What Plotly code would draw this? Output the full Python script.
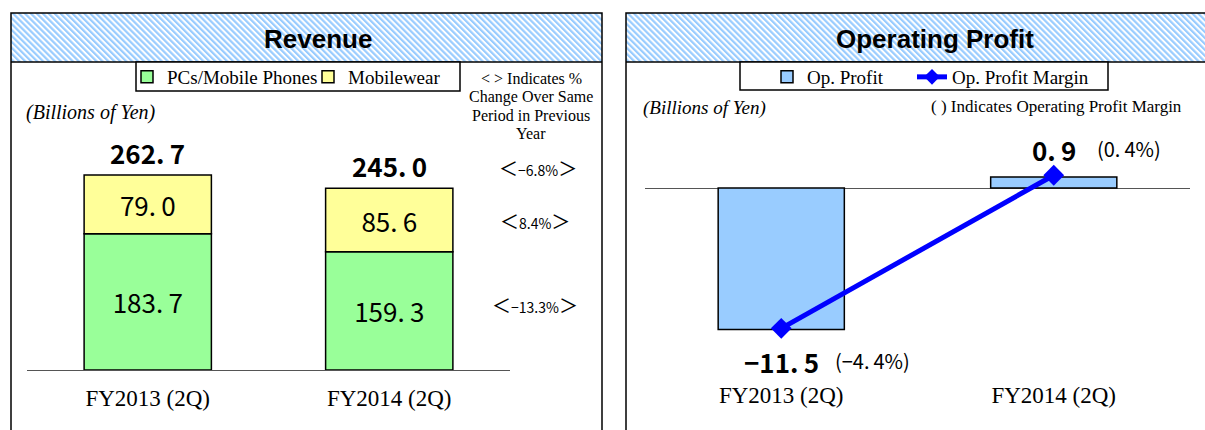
import base64
import plotly.graph_objects as go

# ---------------- data ----------------
categories = ["FY2013 (2Q)", "FY2014 (2Q)"]
pcs_mobile_phones = [183.7, 159.3]
mobilewear = [79.0, 85.6]
revenue_total = [262.7, 245.0]
yoy_total = -6.8
yoy_mobilewear = 8.4
yoy_pcs = -13.3
op_profit = [-11.5, 0.9]
op_margin = [-4.4, 0.4]
note_lines = ["&lt; &gt; Indicates %", "Change Over Same", "Period in Previous", "Year"]

# ---------------- helpers ----------------
W, H = 1205, 430


def px(x):
    return x / W


def py(y):
    return 1 - y / H


def fmt(v):
    s = f"{v:.1f}".replace("-", "\u2212")
    return s.replace(".", ".\u2009")


def fmt_pct(v):
    return f"{v:.1f}%".replace("-", "\u2212")


def hatch(w, h):
    svg = (
        f"<svg xmlns='http://www.w3.org/2000/svg' width='{w}' height='{h}' "
        f"viewBox='0 0 {w} {h}' preserveAspectRatio='none'>"
        "<defs><pattern id='p' width='4.2' height='4.2' patternUnits='userSpaceOnUse' "
        "patternTransform='rotate(-45)'>"
        "<rect width='4.2' height='4.2' fill='#ffffff'/>"
        "<rect width='2.2' height='4.2' fill='#99ccff'/></pattern></defs>"
        f"<rect width='{w}' height='{h}' fill='url(#p)'/></svg>"
    )
    return "data:image/svg+xml;base64," + base64.b64encode(svg.encode()).decode()


GOTHIC = "Noto Sans CJK JP"
SERIF = "Liberation Serif, Times New Roman, serif"
SANS = "Liberation Sans, Arial, sans-serif"

# scales (px per unit)
L_BASE, L_TOP, L_K = 370, 140, 0.742
R_BOT, R_TOP, R_ZERO, R_K, R_K2 = 371, 140, 188, 12.3, 31.9

fig = go.Figure()

# ---------------- Revenue (left) ----------------
fig.add_trace(go.Bar(
    x=categories, y=pcs_mobile_phones, name="PCs/Mobile Phones",
    marker=dict(color="#99ff99", line=dict(color="#000000", width=1.5)),
    width=0.527, text=[fmt(v) for v in pcs_mobile_phones],
    textposition="inside", insidetextanchor="middle", textangle=0,
    textfont=dict(family=GOTHIC, size=26, color="#000000"),
    xaxis="x", yaxis="y", legend="legend", hoverinfo="skip",
))
fig.add_trace(go.Bar(
    x=categories, y=mobilewear, name="Mobilewear",
    marker=dict(color="#ffff99", line=dict(color="#000000", width=1.5)),
    width=0.527, text=[fmt(v) for v in mobilewear],
    textposition="inside", insidetextanchor="middle", textangle=0,
    textfont=dict(family=GOTHIC, size=26, color="#000000"),
    xaxis="x", yaxis="y", legend="legend", hoverinfo="skip",
))

# ---------------- Operating profit (right) ----------------
fig.add_trace(go.Bar(
    x=categories, y=op_profit, name="Op. Profit",
    marker=dict(color="#99ccff", line=dict(color="#000000", width=1.5)),
    width=0.463, xaxis="x2", yaxis="y2", legend="legend2", hoverinfo="skip",
))
fig.add_trace(go.Scatter(
    x=categories, y=op_margin, name="Op. Profit Margin", mode="lines+markers",
    line=dict(color="#0000ff", width=5),
    marker=dict(symbol="diamond", size=16, color="#0000ff"),
    xaxis="x2", yaxis="y3", legend="legend3", hoverinfo="skip", cliponaxis=False,
))


def txt(text, x, y, size, family, xanchor="center", yanchor="middle"):
    return dict(text=text, x=px(x), y=py(y), xref="paper", yref="paper", xanchor=xanchor,
                yanchor=yanchor, showarrow=False, font=dict(family=family, size=size, color="#000000"))


annotations = [
    txt("<b>Revenue</b>", 318, 39, 26, SANS),
    txt("<b>Operating Profit</b>", 935, 39, 26, SANS),
    txt("<i>(Billions of Yen)</i>", 24, 113, 20, SERIF, xanchor="left"),
    txt("<i>(Billions of Yen)</i>", 641, 108, 19, SERIF, xanchor="left"),
    txt("( ) Indicates Operating Profit Margin", 929, 107, 17, SERIF, xanchor="left"),
]
for line, yy in zip(note_lines, [78, 97, 115, 133]):
    annotations.append(txt(line, 531, yy, 16, SERIF))

# revenue totals
for c, t in zip(categories, revenue_total):
    annotations.append(dict(text=f"<b>{fmt(t)}</b>", x=c, y=t, xref="x", yref="y", yanchor="middle",
                            yshift=23, showarrow=False, font=dict(family=GOTHIC, size=26, color="#000000")))


def pct_text(v):
    return f"\uff1c<span style='font-size:14px'>{fmt_pct(v)}</span>\uff1e"


annotations.append(dict(text=pct_text(yoy_total), x=px(538), y=revenue_total[1], xref="paper", yref="y",
                        xanchor="center", yshift=21, showarrow=False,
                        font=dict(family=GOTHIC, size=19, color="#000000")))
annotations.append(dict(text=pct_text(yoy_mobilewear), x=px(535),
                        y=pcs_mobile_phones[1] + mobilewear[1] / 2, xref="paper", yref="y",
                        xanchor="center", showarrow=False, font=dict(family=GOTHIC, size=19, color="#000000")))
annotations.append(dict(text=pct_text(yoy_pcs), x=px(535), y=pcs_mobile_phones[1] / 2,
                        xref="paper", yref="y", xanchor="center", yshift=6,
                        showarrow=False, font=dict(family=GOTHIC, size=19, color="#000000")))

# op profit labels
op_shift = [-32, 27]
for c, v, s in zip(categories, op_profit, op_shift):
    annotations.append(dict(text=f"<b>{fmt(v)}</b>", x=c, y=v, xref="x2", yref="y2", yanchor="middle",
                            yshift=s, showarrow=False, font=dict(family=GOTHIC, size=26, color="#000000")))
margin_dx = [52, 41]
for c, v, m, s, dx in zip(categories, op_profit, op_margin, op_shift, margin_dx):
    annotations.append(dict(text=f"({fmt(m)}%)", x=c, y=v, xref="x2", yref="y2", xanchor="left",
                            yanchor="middle", xshift=dx, yshift=s + 1, showarrow=False,
                            font=dict(family=GOTHIC, size=20, color="#000000")))

shapes = [
    # panels
    dict(type="rect", xref="paper", yref="paper", x0=px(11), x1=px(602), y0=py(13), y1=py(450),
         line=dict(color="#000000", width=1.5), fillcolor="rgba(0,0,0,0)"),
    dict(type="line", xref="paper", yref="paper", x0=px(11), x1=px(602), y0=py(62), y1=py(62),
         line=dict(color="#000000", width=1.5)),
    dict(type="rect", xref="paper", yref="paper", x0=px(626), x1=px(1220), y0=py(13), y1=py(450),
         line=dict(color="#000000", width=1.5), fillcolor="rgba(0,0,0,0)"),
    dict(type="line", xref="paper", yref="paper", x0=px(626), x1=px(1220), y0=py(62), y1=py(62),
         line=dict(color="#000000", width=1.5)),
    # legend boxes
    dict(type="rect", xref="paper", yref="paper", x0=px(136), x1=px(460), y0=py(62), y1=py(91),
         line=dict(color="#000000", width=1.5), fillcolor="#ffffff"),
    dict(type="rect", xref="paper", yref="paper", x0=px(740), x1=px(1108), y0=py(62), y1=py(90),
         line=dict(color="#000000", width=1.5), fillcolor="#ffffff"),
]

images = [
    dict(source=hatch(591, 49), xref="paper", yref="paper", x=px(11), y=py(13), sizex=591 / W,
         sizey=49 / H, sizing="stretch", xanchor="left", yanchor="top", layer="below"),
    dict(source=hatch(594, 49), xref="paper", yref="paper", x=px(626), y=py(13), sizex=594 / W,
         sizey=49 / H, sizing="stretch", xanchor="left", yanchor="top", layer="below"),
]

legend_common = dict(orientation="h", yanchor="top", xanchor="left", bgcolor="rgba(0,0,0,0)",
                     borderwidth=0, traceorder="normal",
                     font=dict(family=SERIF, size=19, color="#000000"))

fig.update_layout(
    width=W, height=H, margin=dict(l=0, r=0, t=0, b=0),
    paper_bgcolor="#ffffff", plot_bgcolor="rgba(0,0,0,0)",
    barmode="relative", bargap=0, showlegend=True,
    xaxis=dict(domain=[px(27), px(510)], anchor="y", type="category", range=[-0.5, 1.5],
               showline=True, linecolor="#555555", linewidth=1, ticks="", showgrid=False,
               zeroline=False, ticklabelstandoff=7,
               tickfont=dict(family=SERIF, size=23, color="#000000"), fixedrange=True),
    yaxis=dict(domain=[py(L_BASE), py(L_TOP)], anchor="x",
               range=[0, (L_BASE - L_TOP) / L_K], visible=False, fixedrange=True),
    xaxis2=dict(domain=[px(645), px(1190)], anchor="y2", type="category", range=[-0.5, 1.5],
                showline=False, ticks="", showgrid=False, zeroline=False, ticklabelstandoff=8,
                tickfont=dict(family=SERIF, size=23, color="#000000"), fixedrange=True),
    yaxis2=dict(domain=[py(R_BOT), py(R_TOP)], anchor="x2",
                range=[-(R_BOT - R_ZERO) / R_K, (R_ZERO - R_TOP) / R_K],
                showgrid=False, showline=False, ticks="", showticklabels=False,
                zeroline=True, zerolinecolor="#555555", zerolinewidth=1, fixedrange=True),
    yaxis3=dict(overlaying="y2", anchor="x2",
                range=[-(R_BOT - R_ZERO) / R_K2, (R_ZERO - R_TOP) / R_K2],
                visible=False, fixedrange=True),
    legend=dict(legend_common, x=px(127), y=py(58), entrywidth=136, entrywidthmode="pixels"),
    legend2=dict(legend_common, x=px(767), y=py(58)),
    legend3=dict(legend_common, x=px(912), y=py(58), itemsizing="constant"),
    annotations=annotations, shapes=shapes, images=images,
)

fig.write_html(
    "out.html",
    config={"displayModeBar": False, "staticPlot": True},
    post_script="document.documentElement.style.overflow='hidden';"
                "document.body.style.margin='0';document.body.style.overflow='hidden';",
)
